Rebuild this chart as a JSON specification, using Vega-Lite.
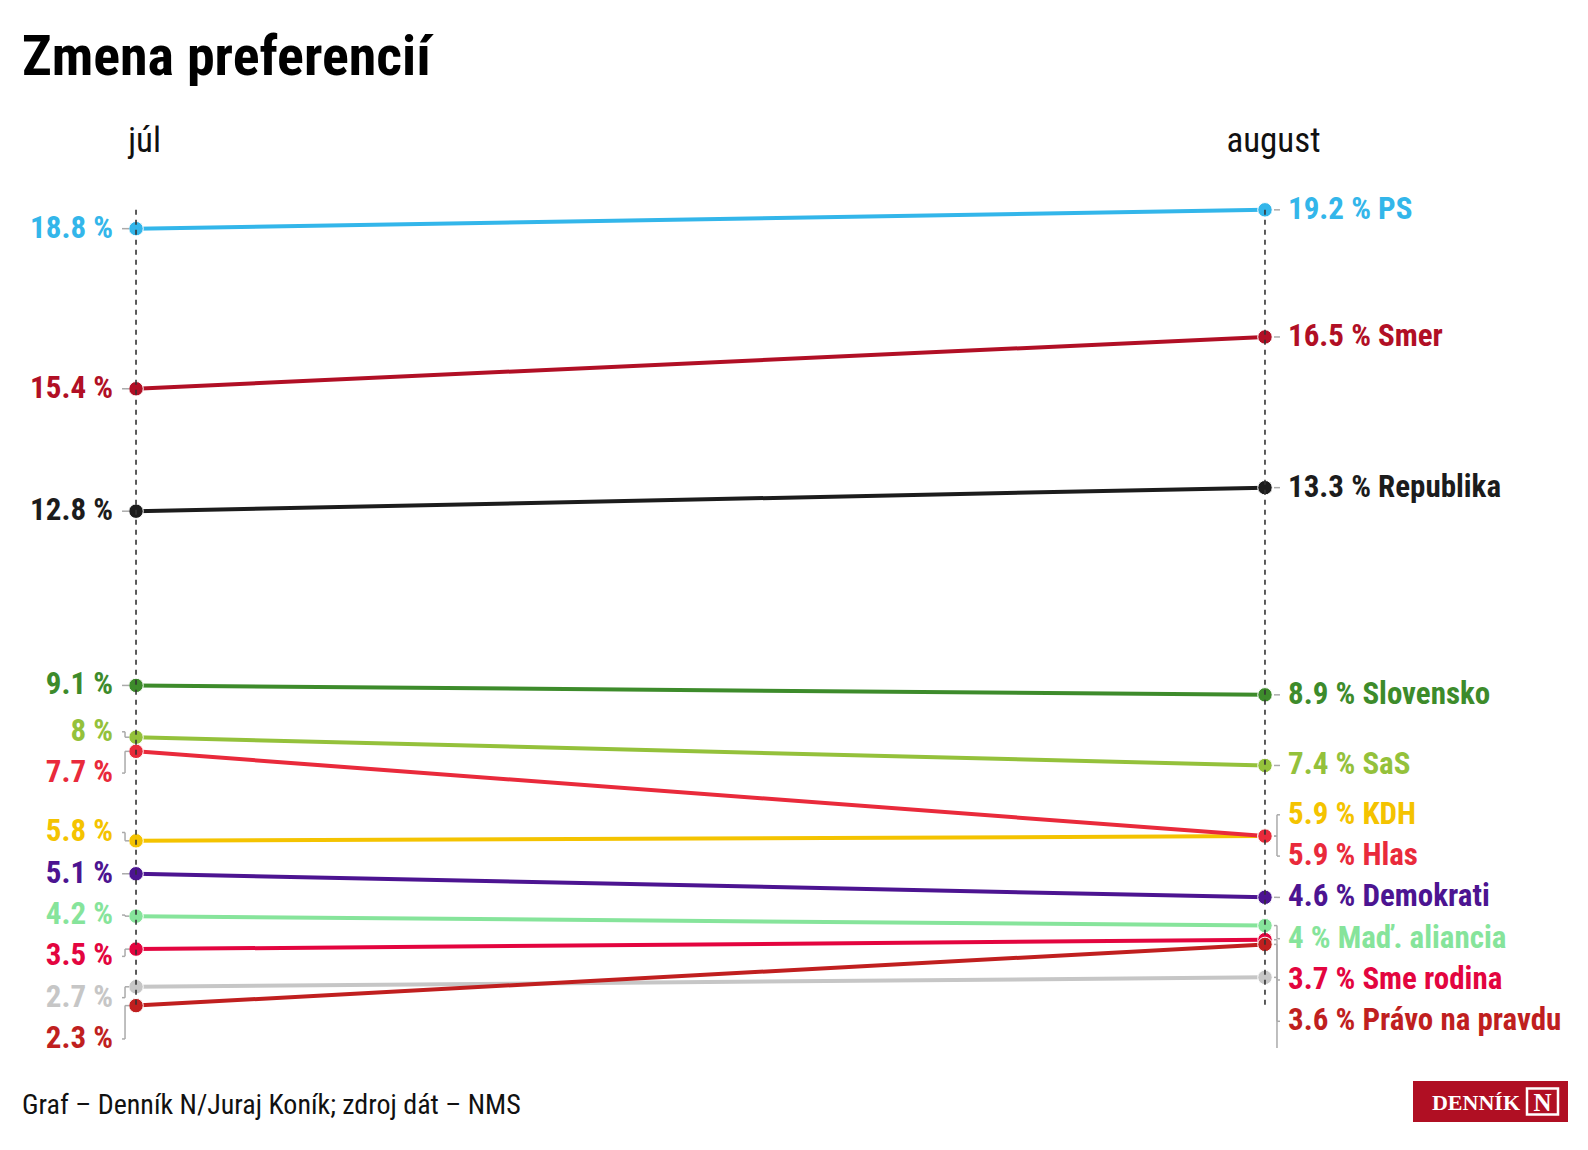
{
  "$schema": "https://vega.github.io/schema/vega-lite/v6.json",
  "background": "white",
  "padding": {"left": 22, "top": 30, "right": 10, "bottom": 10},
  "config": {
    "font": "Roboto Condensed, Liberation Sans Narrow, DejaVu Sans Condensed, Roboto, sans-serif",
    "view": {"stroke": null}
  },
  "title": {
    "text": "Zmena preferencií",
    "anchor": "start",
    "fontSize": 56,
    "fontWeight": "bold",
    "color": "#000000",
    "offset": 36
  },
  "spacing": 32,
  "vconcat": [
    {
      "width": 1357,
      "height": 857,
      "data": {
        "values": [
          {"party": "PS", "month": "júl", "value": 18.8},
          {"party": "PS", "month": "august", "value": 19.2},
          {"party": "Smer", "month": "júl", "value": 15.4},
          {"party": "Smer", "month": "august", "value": 16.5},
          {"party": "Republika", "month": "júl", "value": 12.8},
          {"party": "Republika", "month": "august", "value": 13.3},
          {"party": "Slovensko", "month": "júl", "value": 9.1},
          {"party": "Slovensko", "month": "august", "value": 8.9},
          {"party": "SaS", "month": "júl", "value": 8},
          {"party": "SaS", "month": "august", "value": 7.4},
          {"party": "KDH", "month": "júl", "value": 5.8},
          {"party": "KDH", "month": "august", "value": 5.9},
          {"party": "Hlas", "month": "júl", "value": 7.7},
          {"party": "Hlas", "month": "august", "value": 5.9},
          {"party": "Demokrati", "month": "júl", "value": 5.1},
          {"party": "Demokrati", "month": "august", "value": 4.6},
          {"party": "Maď. aliancia", "month": "júl", "value": 4.2},
          {"party": "Maď. aliancia", "month": "august", "value": 4},
          {"party": "Sme rodina", "month": "júl", "value": 3.5},
          {"party": "Sme rodina", "month": "august", "value": 3.7},
          {"party": "iné", "month": "júl", "value": 2.7},
          {"party": "iné", "month": "august", "value": 2.9},
          {"party": "Právo na pravdu", "month": "júl", "value": 2.3},
          {"party": "Právo na pravdu", "month": "august", "value": 3.6}
        ]
      },
      "transform": [
        {"window": [{"op": "row_number", "as": "rank"}], "groupby": ["month"], "sort": [{"field": "value", "order": "descending"}]},
        {"calculate": "datum.value + datum.rank * 0.877", "as": "w"},
        {"window": [{"op": "min", "field": "w", "as": "wmin"}], "groupby": ["month"], "sort": [{"field": "rank", "order": "ascending"}], "frame": [null, 0], "ignorePeers": true},
        {"window": [{"op": "max", "field": "w", "as": "wmax"}], "groupby": ["month"], "sort": [{"field": "rank", "order": "ascending"}], "frame": [0, null], "ignorePeers": true},
        {"calculate": "datum.wmin - datum.rank * 0.877", "as": "td"},
        {"calculate": "datum.wmax - datum.rank * 0.877", "as": "bu"},
        {"window": [{"op": "lag", "field": "td", "as": "prevTd"}, {"op": "lead", "field": "td", "as": "nextTd"}], "groupby": ["month"], "sort": [{"field": "rank", "order": "ascending"}]},
        {"calculate": "(isValid(datum.prevTd) && datum.prevTd - datum.td < 0.887) || (isValid(datum.nextTd) && datum.td - datum.nextTd < 0.887)", "as": "inCluster"},
        {"calculate": "datum.inCluster ? 0.8 * datum.td + 0.2 * datum.bu : datum.td", "as": "labelY"},
        {"calculate": "datum.month == 'júl' ? datum.value + ' %' : datum.value + ' % ' + datum.party", "as": "label"}
      ],
      "encoding": {
        "x": {
          "field": "month",
          "type": "ordinal",
          "scale": {"type": "point", "domain": ["júl", "august"], "padding": 0.101},
          "axis": {
            "orient": "top",
            "title": null,
            "labelAngle": 0,
            "labelFontSize": 35,
            "labelFontWeight": "normal",
            "labelColor": "#111111",
            "labelPadding": 33,
            "labelOffset": 8,
            "ticks": false,
            "tickSize": 0,
            "domain": false,
            "grid": false
          }
        }
      },
      "layer": [
        {
          "mark": {"type": "line", "strokeWidth": 4},
          "encoding": {
            "y": {"field": "value", "type": "quantitative", "scale": {"domain": [1.4, 19.6], "nice": false, "zero": false}, "axis": null},
            "color": {
              "field": "party",
              "type": "nominal",
              "legend": null,
              "scale": {
                "domain": ["PS", "Smer", "Republika", "Slovensko", "SaS", "KDH", "Hlas", "Demokrati", "Maď. aliancia", "Sme rodina", "iné", "Právo na pravdu"],
                "range": ["#33b6ea", "#b10f25", "#1c1c1c", "#3d8b2b", "#94c13b", "#f4c300", "#e92a3b", "#4c1491", "#86e49b", "#e3053f", "#c6c6c6", "#c01f1f"]
              }
            }
          }
        },
        {
          "mark": {"type": "circle", "size": 210, "opacity": 1, "stroke": "white", "strokeWidth": 1},
          "encoding": {
            "y": {"field": "value", "type": "quantitative"},
            "color": {"field": "party", "type": "nominal", "legend": null}
          }
        },
        {
          "transform": [
            {"joinaggregate": [{"op": "max", "field": "value", "as": "gmax"}, {"op": "min", "field": "value", "as": "gmin"}]}
          ],
          "mark": {"type": "rule", "strokeDash": [5, 5], "strokeWidth": 1.6, "color": "#333333", "clip": true},
          "encoding": {
            "y": {"field": "gmax", "aggregate": "max", "type": "quantitative"},
            "y2": {"field": "gmin", "aggregate": "min"}
          }
        },
        {
          "transform": [{"filter": "datum.month == 'júl'"}],
          "mark": {"type": "rule", "strokeWidth": 1.5, "color": "#aaaaaa", "xOffset": -11, "clip": true},
          "encoding": {
            "y": {"field": "value", "type": "quantitative"},
            "y2": {"field": "labelY"}
          }
        },
        {
          "transform": [{"filter": "datum.month == 'júl'"}],
          "mark": {"type": "rule", "strokeWidth": 1.5, "color": "#aaaaaa", "xOffset": -14, "x2Offset": -11, "clip": true},
          "encoding": {
            "x2": {"field": "month"},
            "y": {"field": "labelY", "type": "quantitative"}
          }
        },
        {
          "transform": [{"filter": "datum.month == 'júl'"}],
          "mark": {"type": "rule", "strokeWidth": 1.5, "color": "#aaaaaa", "xOffset": -11, "x2Offset": -7, "clip": true},
          "encoding": {
            "x2": {"field": "month"},
            "y": {"field": "value", "type": "quantitative"}
          }
        },
        {
          "transform": [{"filter": "datum.month == 'august'"}],
          "mark": {"type": "rule", "strokeWidth": 1.5, "color": "#aaaaaa", "xOffset": 12, "clip": true},
          "encoding": {
            "y": {"field": "value", "type": "quantitative"},
            "y2": {"field": "labelY"}
          }
        },
        {
          "transform": [{"filter": "datum.month == 'august'"}],
          "mark": {"type": "rule", "strokeWidth": 1.5, "color": "#aaaaaa", "xOffset": 12, "x2Offset": 15, "clip": true},
          "encoding": {
            "x2": {"field": "month"},
            "y": {"field": "labelY", "type": "quantitative"}
          }
        },
        {
          "transform": [{"filter": "datum.month == 'august'"}],
          "mark": {"type": "rule", "strokeWidth": 1.5, "color": "#aaaaaa", "xOffset": 9, "x2Offset": 12, "clip": true},
          "encoding": {
            "x2": {"field": "month"},
            "y": {"field": "value", "type": "quantitative"}
          }
        },
        {
          "transform": [{"filter": "datum.month == 'júl'"}],
          "mark": {"type": "text", "align": "right", "baseline": "middle", "dx": -23, "fontSize": 31, "fontWeight": "bold", "clip": true},
          "encoding": {
            "y": {"field": "labelY", "type": "quantitative"},
            "text": {"field": "label"},
            "color": {"field": "party", "type": "nominal", "legend": null}
          }
        },
        {
          "transform": [{"filter": "datum.month == 'august' && datum.labelY > 1.4"}],
          "mark": {"type": "text", "align": "left", "baseline": "middle", "dx": 23, "fontSize": 31, "fontWeight": "bold"},
          "encoding": {
            "y": {"field": "labelY", "type": "quantitative"},
            "text": {"field": "label"},
            "color": {"field": "party", "type": "nominal", "legend": null}
          }
        }
      ]
    },
    {
      "width": 1546,
      "height": 45,
      "data": {
        "values": [
          {"kind": "credit", "text": "Graf – Denník N/Juraj Koník; zdroj dát – NMS"},
          {"kind": "logo", "text": "DENNÍK"}
        ]
      },
      "encoding": {
        "x": {"field": "kind", "type": "nominal", "scale": {"type": "point", "domain": ["credit", "logo"], "padding": 0}, "axis": null}
      },
      "layer": [
        {
          "transform": [{"filter": "datum.kind == 'credit'"}],
          "mark": {"type": "text", "align": "left", "baseline": "middle", "fontSize": 28, "color": "#111111"},
          "encoding": {"text": {"field": "text"}}
        },
        {
          "transform": [{"filter": "datum.kind == 'logo'"}],
          "mark": {"type": "point", "shape": "M-2,-0.265H0V0.265H-2Z", "filled": true, "opacity": 1, "color": "#b00f23", "size": 24025, "yOffset": -4},
          "encoding": {}
        },
        {
          "transform": [{"filter": "datum.kind == 'logo'"}],
          "mark": {"type": "point", "shape": "M-4.1,-1.3H-1V1.3H-4.1Z", "filled": false, "opacity": 1, "stroke": "white", "strokeWidth": 2.5, "size": 400, "yOffset": -4},
          "encoding": {}
        },
        {
          "transform": [{"filter": "datum.kind == 'logo'"}],
          "mark": {"type": "text", "align": "center", "baseline": "middle", "dx": -25.5, "dy": -3, "fontSize": 25, "fontWeight": "bold", "font": "Liberation Serif", "color": "white"},
          "encoding": {"text": {"value": "N"}}
        },
        {
          "transform": [{"filter": "datum.kind == 'logo'"}],
          "mark": {"type": "text", "align": "right", "baseline": "middle", "dx": -48, "dy": -3, "fontSize": 22, "fontWeight": "bold", "font": "Liberation Serif", "color": "white"},
          "encoding": {"text": {"field": "text"}}
        }
      ]
    }
  ]
}
